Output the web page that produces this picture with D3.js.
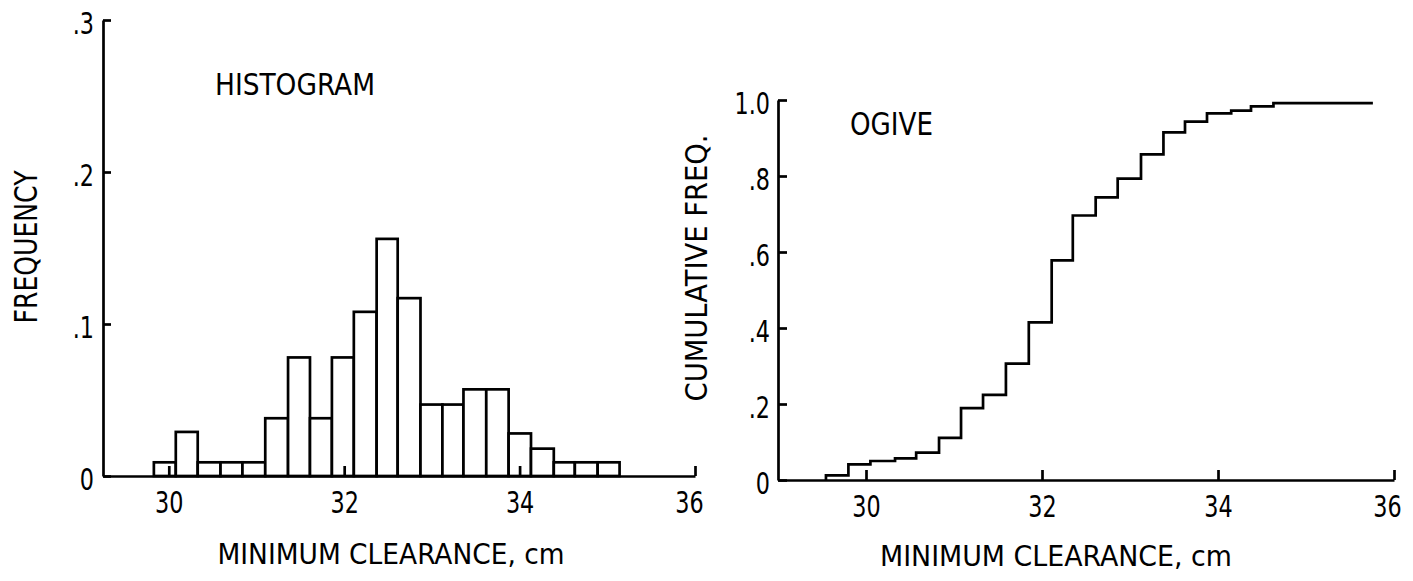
<!DOCTYPE html>
<html>
<head>
<meta charset="utf-8">
<script src="https://cdn.jsdelivr.net/npm/d3@7"></script>
<style>
  html, body { margin: 0; padding: 0; background: #fff; }
  svg { display: block; }
  text { font-family: "Liberation Sans Narrow", "DejaVu Sans Condensed", "DejaVu Sans", sans-serif; fill: #000; }
</style>
</head>
<body>
<svg id="chart" width="1413" height="581"></svg>
<script>
// ---------------- data ----------------
// Histogram: bin left edges (cm) and frequencies
const binEdges = [29.83, 30.08, 30.33, 30.59, 30.84, 31.10, 31.36, 31.61, 31.86, 32.11, 32.37,
                  32.61, 32.87, 33.12, 33.36, 33.62, 33.875, 34.13, 34.39, 34.63, 34.89, 35.14];
const frequencies = [0.009, 0.029, 0.009, 0.009, 0.009, 0.038, 0.078, 0.038, 0.078, 0.108, 0.156,
                     0.117, 0.047, 0.047, 0.057, 0.057, 0.028, 0.018, 0.009, 0.009, 0.009];
// Ogive: step positions (cm) and cumulative frequency after each step
const ogiveX = [29.545, 29.80, 30.05, 30.33, 30.57, 30.83, 31.08, 31.33, 31.59, 31.85, 32.11,
                32.35, 32.61, 32.86, 33.125, 33.38, 33.625, 33.875, 34.15, 34.375, 34.63];
const ogiveY = [0.012, 0.041, 0.050, 0.057, 0.072, 0.111, 0.189, 0.224, 0.306, 0.415, 0.578,
                0.696, 0.744, 0.793, 0.857, 0.915, 0.943, 0.965, 0.972, 0.983, 0.992];
const ogiveEndX = 35.76;
// tick values / labels
const xTicks = [30, 32, 34, 36];
const histYTicks = [0, 0.1, 0.2, 0.3];
const histYLabels = ["0", ".1", ".2", ".3"];
const ogiveYTicks = [0, 0.2, 0.4, 0.6, 0.8, 1.0];
const ogiveYLabels = ["0", ".2", ".4", ".6", ".8", "1.0"];

// ---------------- drawing ----------------
const svg = d3.select("#chart");
const SW = 2.7;

function styleAxis(g) {
  g.selectAll("path.domain").attr("stroke", "#000").attr("stroke-width", SW);
  g.selectAll(".tick line").attr("stroke", "#000").attr("stroke-width", SW);
  g.selectAll(".tick text").style("font-size", "31px").attr("fill", "#000")
    .each(function () {
      const len = this.getComputedTextLength();
      d3.select(this).attr("textLength", len * 0.8).attr("lengthAdjust", "spacingAndGlyphs");
    });
}

// ---- Histogram panel ----
const hx = d3.scaleLinear().domain([29.25, 36]).range([103, 695]);
const hy = d3.scaleLinear().domain([0, 0.3]).range([476, 20]);

const hist = svg.append("g");
hist.selectAll("rect.bar")
  .data(frequencies)
  .join("rect")
  .attr("class", "bar")
  .attr("x", (d, i) => hx(binEdges[i]))
  .attr("width", (d, i) => hx(binEdges[i + 1]) - hx(binEdges[i]))
  .attr("y", d => hy(d))
  .attr("height", d => hy(0) - hy(d))
  .attr("fill", "#fff")
  .attr("stroke", "#000")
  .attr("stroke-width", SW);

const hxAxis = hist.append("g")
  .attr("transform", `translate(0,${hy(0)})`)
  .call(d3.axisBottom(hx).tickValues(xTicks).tickFormat(d3.format("d"))
        .tickSizeInner(-10).tickSizeOuter(0).tickPadding(15));
styleAxis(hxAxis);
hxAxis.selectAll(".tick text").filter(d => d === 36).attr("dx", -6);

const hyAxis = hist.append("g")
  .attr("transform", `translate(${hx(29.25)},0)`)
  .call(d3.axisLeft(hy).tickValues(histYTicks).tickFormat((d, i) => histYLabels[i])
        .tickSizeInner(-8).tickSizeOuter(0).tickPadding(9));
styleAxis(hyAxis);
hyAxis.selectAll(".tick text").attr("dy", "0.42em");

hist.append("text").attr("x", 215).attr("y", 95)
  .attr("textLength", 160).attr("lengthAdjust", "spacingAndGlyphs")
  .style("font-size", "31px").text("HISTOGRAM");

hist.append("text").attr("transform", "translate(37,247) rotate(-90)")
  .attr("text-anchor", "middle")
  .attr("textLength", 153).attr("lengthAdjust", "spacingAndGlyphs")
  .style("font-size", "32px").text("FREQUENCY");

hist.append("text").attr("x", 391).attr("y", 564)
  .attr("text-anchor", "middle")
  .attr("textLength", 347).attr("lengthAdjust", "spacingAndGlyphs")
  .style("font-size", "29px").text("MINIMUM  CLEARANCE, cm");

// ---- Ogive panel ----
const ox = d3.scaleLinear().domain([29, 36]).range([778, 1394]);
const oy = d3.scaleLinear().domain([0, 1]).range([480, 100]);

const og = svg.append("g");

const pts = [[ogiveX[0], 0]];
ogiveX.forEach((x, i) => pts.push([x, ogiveY[i]]));
pts.push([ogiveEndX, ogiveY[ogiveY.length - 1]]);
const line = d3.line().x(d => ox(d[0])).y(d => oy(d[1])).curve(d3.curveStepAfter);
og.append("path").datum(pts)
  .attr("d", line)
  .attr("fill", "none").attr("stroke", "#000").attr("stroke-width", SW)
  .attr("stroke-linejoin", "miter");

const oxAxis = og.append("g")
  .attr("transform", `translate(0,${oy(0)})`)
  .call(d3.axisBottom(ox).tickValues(xTicks).tickFormat(d3.format("d"))
        .tickSizeInner(-10).tickSizeOuter(0).tickPadding(15));
styleAxis(oxAxis);
oxAxis.selectAll(".tick text").filter(d => d === 36).attr("dx", -7);

const oyAxis = og.append("g")
  .attr("transform", `translate(${ox(29)},0)`)
  .call(d3.axisLeft(oy).tickValues(ogiveYTicks).tickFormat((d, i) => ogiveYLabels[i])
        .tickSizeInner(-9).tickSizeOuter(0).tickPadding(8));
styleAxis(oyAxis);
oyAxis.selectAll(".tick text").attr("dy", "0.42em");

og.append("text").attr("x", 850).attr("y", 135)
  .attr("textLength", 83).attr("lengthAdjust", "spacingAndGlyphs")
  .style("font-size", "32px").text("OGIVE");

og.append("text").attr("transform", "translate(707,268) rotate(-90)")
  .attr("text-anchor", "middle")
  .attr("textLength", 267).attr("lengthAdjust", "spacingAndGlyphs")
  .style("font-size", "31px").text("CUMULATIVE  FREQ.");

og.append("text").attr("x", 1056).attr("y", 566)
  .attr("text-anchor", "middle")
  .attr("textLength", 352).attr("lengthAdjust", "spacingAndGlyphs")
  .style("font-size", "29px").text("MINIMUM  CLEARANCE, cm");
</script>
</body>
</html>
